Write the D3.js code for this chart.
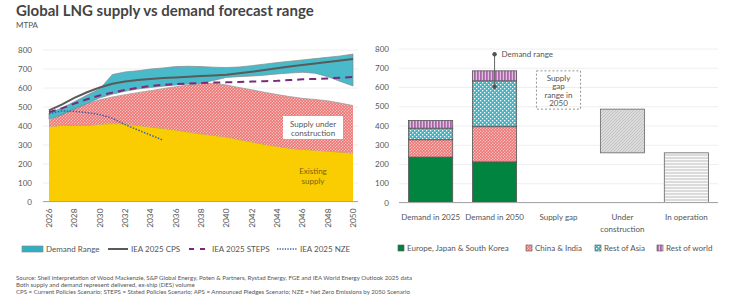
<!DOCTYPE html>
<html>
<head>
<meta charset="utf-8">
<script src="https://cdn.jsdelivr.net/npm/d3@7"></script>
<style>
  body { margin: 0; background: #fff; }
  svg text { font-family: Lato, 'Noto Sans', sans-serif; fill: #555; }
</style>
</head>
<body>
<div id="chart"></div>
<script>
// ---- data (MTPA) ----
var years = d3.range(2026, 2051)
var existingSupply = [394, 400, 400, 400, 407, 410, 408, 400, 392, 385, 376, 366, 356, 348, 340, 326, 314, 301, 290, 280, 274, 270, 265, 260, 255]
var totalSupply = [425, 460, 490, 515, 535, 550, 562, 573, 583, 594, 604, 613, 620, 622, 613, 600, 588, 575, 563, 552, 543, 537, 530, 518, 505]
var demandLow = [432, 455, 485, 515, 545, 565, 580, 592, 600, 607, 613, 618, 622, 637, 653, 657, 660, 665, 671, 676, 680, 675, 657, 632, 608]
var demandHigh = [465, 492, 525, 560, 592, 668, 682, 688, 697, 703, 710, 712, 710, 707, 705, 708, 715, 723, 731, 738, 745, 752, 759, 766, 776]
var cps = [480, 510, 545, 575, 600, 620, 632, 640, 645, 650, 653, 656, 660, 663, 667, 675, 683, 692, 701, 710, 718, 726, 734, 742, 750]
var steps = [470, 490, 515, 538, 558, 573, 587, 598, 608, 614, 618, 621, 624, 626, 627, 629, 631, 633, 635, 639, 643, 645, 648, 652, 655]
var nzeYears = d3.range(2026, 2036)
var nze = [462, 476, 475, 468, 458, 438, 405, 377, 350, 323]

var barCategories = ['Demand in 2025', 'Demand in 2050', 'Supply gap', 'Under construction', 'In operation']
var regions = ['Europe, Japan & South Korea', 'China & India', 'Rest of Asia', 'Rest of world']
var demand2025 = [236, 90, 60, 40]
var demand2050 = [211, 183, 238, 52]
var demandRange2050 = [601, 770]
var underConstruction = [258, 485]
var inOperation = [0, 258]

var yTicks = [0, 100, 200, 300, 400, 500, 600, 700, 800]
var xTicks = d3.range(2026, 2051, 2)

var svg = d3.select('#chart').append('svg')
  .attr('width', 730).attr('height', 299)

// ---- patterns ----
var defs = svg.append('defs')
function pattern(id, w, h, bg, draw) {
  var p = defs.append('pattern').attr('id', id)
    .attr('patternUnits', 'userSpaceOnUse').attr('width', w).attr('height', h)
  p.append('rect').attr('width', w).attr('height', h).attr('fill', bg)
  draw(p)
}
pattern('pinkHatch', 3, 3, '#f08a88', function(p) {
  p.append('path').attr('d', 'M0,3L3,0M-1,1L1,-1M2,4L4,2').attr('stroke', '#fbe3e2').attr('stroke-width', 0.6)
  p.append('path').attr('d', 'M0,0L3,3').attr('stroke', '#e8615f').attr('stroke-width', 0.5)
})
pattern('tealCheck', 4, 4, '#3eb6c6', function(p) {
  p.append('rect').attr('x', 0).attr('y', 0).attr('width', 1.3).attr('height', 1.3).attr('fill', '#fff')
  p.append('rect').attr('x', 2).attr('y', 2).attr('width', 1.3).attr('height', 1.3).attr('fill', '#fff')
})
pattern('purpleStripe', 3, 3, '#a865a8', function(p) {
  p.append('rect').attr('x', 1.8).attr('width', 1).attr('height', 3).attr('fill', '#ecd6ec')
})
pattern('grayHatch', 3, 3, '#dcdcdc', function(p) {
  p.append('path').attr('d', 'M0,3L3,0M-1,1L1,-1M2,4L4,2').attr('stroke', '#b8b8b8').attr('stroke-width', 0.7)
})
pattern('grayLines', 3, 3, '#fafafa', function(p) {
  p.append('rect').attr('y', 1.5).attr('width', 3).attr('height', 1).attr('fill', '#bdbdbd')
})

// ---- title ----
svg.append('text').attr('x', 16).attr('y', 16)
  .style('font-size', '15px').style('font-weight', 700).style('fill', '#444')
  .text('Global LNG supply vs demand forecast range')
svg.append('text').attr('x', 16).attr('y', 28)
  .style('font-size', '8px').style('fill', '#555').text('MTPA')

// ---- left chart ----
var x = d3.scaleLinear().domain([2026, 2050]).range([49, 353])
var y = d3.scaleLinear().domain([0, 800]).range([201.5, 49.5])

var left = svg.append('g')
left.append('g')
  .attr('transform', 'translate(43,0)')
  .call(d3.axisLeft(y).tickValues(yTicks).tickSize(-315).tickPadding(11))
  .call(g => g.select('.domain').remove())
  .call(g => g.selectAll('line').attr('stroke', '#eeeeee'))
  .call(g => g.selectAll('text').style('font-size', '8px').style('fill', '#555'))

var area = d3.area().x((d, i) => x(years[i]))

left.append('path').datum(existingSupply)
  .attr('d', area.y0(y(0)).y1(d => y(d)))
  .attr('fill', '#f9cd02').attr('stroke', 'none')
left.append('path').datum(existingSupply)
  .attr('d', d3.line().x((d, i) => x(years[i])).y(d => y(d)))
  .attr('fill', 'none').attr('stroke', '#a99a60').attr('stroke-width', 0.8)

left.append('path').datum(totalSupply)
  .attr('d', d3.area().x((d, i) => x(years[i])).y0((d, i) => y(existingSupply[i])).y1(d => y(d)))
  .attr('fill', 'url(#pinkHatch)')
left.append('path').datum(totalSupply)
  .attr('d', d3.line().x((d, i) => x(years[i])).y(d => y(d)))
  .attr('fill', 'none').attr('stroke', '#a0a0a0').attr('stroke-width', 0.8)

left.append('path').datum(demandHigh)
  .attr('d', d3.area().x((d, i) => x(years[i])).y0((d, i) => y(demandLow[i])).y1(d => y(d)))
  .attr('fill', '#2fb0c2').attr('fill-opacity', 0.88)
  .attr('stroke', '#8a8a8a').attr('stroke-width', 0.7)

var line = d3.line().x((d, i) => x(years[i])).y(d => y(d))
left.append('path').datum(cps).attr('d', line)
  .attr('fill', 'none').attr('stroke', '#5a5a5a').attr('stroke-width', 2)
left.append('path').datum(steps).attr('d', line)
  .attr('fill', 'none').attr('stroke', '#7a2a7c').attr('stroke-width', 2).attr('stroke-dasharray', '7,5')
left.append('path').datum(nze)
  .attr('d', d3.line().x((d, i) => x(nzeYears[i])).y(d => y(d)))
  .attr('fill', 'none').attr('stroke', '#3b60a6').attr('stroke-width', 1.5).attr('stroke-dasharray', '1.5,1.5')

// baseline + year ticks
left.append('line').attr('x1', 43).attr('x2', 358).attr('y1', y(0)).attr('y2', y(0))
  .attr('stroke', '#a6a6a6').attr('stroke-width', 1)
left.append('g').attr('transform', 'translate(0,' + y(0) + ')')
  .call(d3.axisBottom(x).tickValues(xTicks).tickFormat(d3.format('d')).tickSize(0))
  .call(g => g.select('.domain').remove())
  .call(g => g.selectAll('text')
    .style('font-size', '8.3px').style('fill', '#555')
    .attr('transform', 'rotate(-90)').attr('text-anchor', 'end')
    .attr('x', -7).attr('y', 0).attr('dy', '0.32em'))

// annotations
left.append('rect').attr('x', 283).attr('y', 116).attr('width', 60).attr('height', 23).attr('fill', '#fff')
left.append('text').attr('x', 313).attr('y', 126.5).attr('text-anchor', 'middle')
  .style('font-size', '8px').style('fill', '#555').text('Supply under')
left.append('text').attr('x', 313).attr('y', 135.5).attr('text-anchor', 'middle')
  .style('font-size', '8px').style('fill', '#555').text('construction')
left.append('text').attr('x', 313).attr('y', 174).attr('text-anchor', 'middle')
  .style('font-size', '8px').style('fill', '#7a6410').text('Existing')
left.append('text').attr('x', 313).attr('y', 183.5).attr('text-anchor', 'middle')
  .style('font-size', '8px').style('fill', '#7a6410').text('supply')

// left legend
var lg = svg.append('g').attr('transform', 'translate(0,249)')
lg.append('rect').attr('x', 22).attr('y', -3).attr('width', 21).attr('height', 6)
  .attr('fill', '#2fb0c2').attr('stroke', '#8a8a8a').attr('stroke-width', 0.7)
lg.append('text').attr('x', 46).attr('y', 3).style('font-size', '8px').text('Demand Range')
lg.append('line').attr('x1', 108).attr('x2', 128).attr('stroke', '#5a5a5a').attr('stroke-width', 2)
lg.append('text').attr('x', 131).attr('y', 3).style('font-size', '8px').text('IEA 2025 CPS')
lg.append('line').attr('x1', 189).attr('x2', 206).attr('stroke', '#7a2a7c').attr('stroke-width', 2).attr('stroke-dasharray', '5,6')
lg.append('text').attr('x', 212).attr('y', 3).style('font-size', '8px').text('IEA 2025 STEPS')
lg.append('line').attr('x1', 277).attr('x2', 297).attr('stroke', '#3b60a6').attr('stroke-width', 1.3).attr('stroke-dasharray', '1.3,1.3')
lg.append('text').attr('x', 300).attr('y', 3).style('font-size', '8px').text('IEA 2025 NZE')

// ---- right chart ----
var xb = d3.scaleBand().domain(barCategories).range([399, 718]).paddingInner(0.31).paddingOuter(0.15)
var yb = d3.scaleLinear().domain([0, 800]).range([202.5, 48.5])
var fills = ['#00843f', 'url(#pinkHatch)', 'url(#tealCheck)', 'url(#purpleStripe)']

var right = svg.append('g')
right.append('g')
  .attr('transform', 'translate(399,0)')
  .call(d3.axisLeft(yb).tickValues(yTicks).tickSize(-319).tickPadding(10))
  .call(g => g.select('.domain').remove())
  .call(g => g.selectAll('line').attr('stroke', '#eeeeee'))
  .call(g => g.selectAll('text').style('font-size', '8px').style('fill', '#555'))

function stack(vals) {
  var acc = 0
  return vals.map(function(v, i) { var s = { y0: acc, y1: acc + v, i: i }; acc += v; return s })
}
;[['Demand in 2025', demand2025], ['Demand in 2050', demand2050]].forEach(function(pair) {
  right.selectAll(null).data(stack(pair[1])).enter().append('rect')
    .attr('x', xb(pair[0])).attr('width', xb.bandwidth())
    .attr('y', d => yb(d.y1)).attr('height', d => yb(d.y0) - yb(d.y1))
    .attr('fill', d => fills[d.i]).attr('stroke', '#555').attr('stroke-width', 0.8)
})
right.append('rect').attr('x', xb('Under construction')).attr('width', xb.bandwidth())
  .attr('y', yb(underConstruction[1])).attr('height', yb(underConstruction[0]) - yb(underConstruction[1]))
  .attr('fill', 'url(#grayHatch)').attr('stroke', '#666').attr('stroke-width', 0.8)
right.append('rect').attr('x', xb('In operation')).attr('width', xb.bandwidth())
  .attr('y', yb(inOperation[1])).attr('height', yb(inOperation[0]) - yb(inOperation[1]))
  .attr('fill', 'url(#grayLines)').attr('stroke', '#666').attr('stroke-width', 0.8)

// supply gap dashed box
var gapTop = d3.sum(demand2050), gapBottom = underConstruction[1]
right.append('rect').attr('x', xb('Supply gap')).attr('width', xb.bandwidth())
  .attr('y', yb(gapTop)).attr('height', yb(gapBottom) - yb(gapTop))
  .attr('fill', 'none').attr('stroke', '#777').attr('stroke-width', 0.8).attr('stroke-dasharray', '2,2')
var gx = xb('Supply gap') + xb.bandwidth() / 2
;['Supply', 'gap', 'range in', '2050'].forEach(function(t, i) {
  right.append('text').attr('x', gx).attr('y', yb(gapTop) + 10 + i * 8.5).attr('text-anchor', 'middle')
    .style('font-size', '8px').style('fill', '#555').text(t)
})

// demand range whisker
var wx = xb('Demand in 2050') + xb.bandwidth() / 2
right.append('line').attr('x1', wx).attr('x2', wx).attr('y1', yb(demandRange2050[0])).attr('y2', yb(demandRange2050[1]))
  .attr('stroke', '#666').attr('stroke-width', 1)
right.selectAll(null).data(demandRange2050).enter().append('circle')
  .attr('cx', wx).attr('cy', d => yb(d)).attr('r', 2.2).attr('fill', '#555')
right.append('text').attr('x', wx + 7).attr('y', yb(demandRange2050[1]) + 3)
  .style('font-size', '8px').style('fill', '#555').text('Demand range')

// baseline + category labels
right.append('line').attr('x1', 399).attr('x2', 718).attr('y1', yb(0)).attr('y2', yb(0))
  .attr('stroke', '#a6a6a6').attr('stroke-width', 1)
barCategories.forEach(function(c) {
  var parts = c === 'Under construction' ? ['Under', 'construction'] : [c]
  parts.forEach(function(p, i) {
    right.append('text').attr('x', xb(c) + xb.bandwidth() / 2).attr('y', 219.5 + i * 12.5)
      .attr('text-anchor', 'middle').style('font-size', '8px').style('fill', '#555').text(p)
  })
})

// right legend
var legX = [398, 526, 595, 657]
regions.forEach(function(r, i) {
  svg.append('rect').attr('x', legX[i]).attr('y', 245).attr('width', 6).attr('height', 6)
    .attr('fill', fills[i]).attr('stroke', '#555').attr('stroke-width', 0.6)
  svg.append('text').attr('x', legX[i] + 9).attr('y', 251).style('font-size', '8px').text(r)
})

// ---- footnotes ----
var notes = [
  'Source: Shell interpretation of Wood Mackenzie, S&P Global Energy, Poten & Partners, Rystad Energy, FGE and IEA World Energy Outlook 2025 data',
  'Both supply and demand represent delivered, ex-ship (DES) volume',
  'CPS = Current Policies Scenario; STEPS = Stated Policies Scenario; APS = Announced Pledges Scenario; NZE = Net Zero Emissions by 2050 Scenario'
]
notes.forEach(function(n, i) {
  svg.append('text').attr('x', 16).attr('y', 280 + i * 7).style('font-size', '6.1px').style('fill', '#555').text(n)
})
</script>
</body>
</html>
